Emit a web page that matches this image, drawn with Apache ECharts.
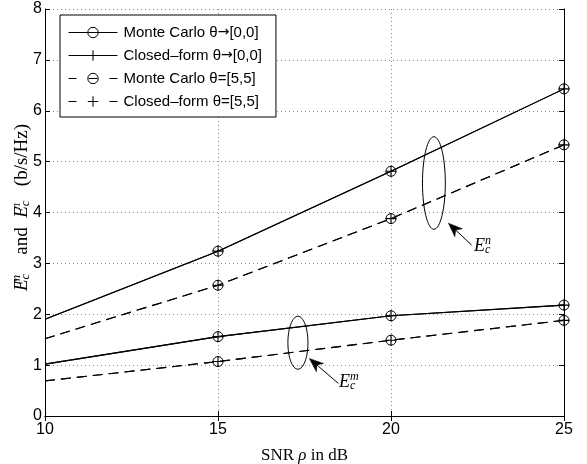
<!DOCTYPE html>
<html>
<head>
<meta charset="utf-8">
<script src="https://cdn.jsdelivr.net/npm/echarts@6/dist/echarts.min.js"></script>
<style>
html,body{margin:0;padding:0;background:#fff;}
#c{width:587px;height:464px;}
</style>
</head>
<body>
<div id="c"></div>
<script>
// ---- data ----
const snr = [10, 15, 20, 25];
const xTicks = [10, 15, 20, 25];
const yTicks = [0, 1, 2, 3, 4, 5, 6, 7, 8];
const en00 = [1.90, 3.24, 4.81, 6.43];   // E_c^n, theta -> [0,0]
const en55 = [1.52, 2.57, 3.88, 5.33];   // E_c^n, theta = [5,5]
const em00 = [1.02, 1.56, 1.97, 2.18];   // E_c^m, theta -> [0,0]
const em55 = [0.69, 1.07, 1.49, 1.88];   // E_c^m, theta = [5,5]
const seriesNames = ['Monte Carlo θ→[0,0]', 'Closed–form θ→[0,0]', 'Monte Carlo θ=[5,5]', 'Closed–form θ=[5,5]'];
// annotation groups in data coordinates: ellipse centre/radii, arrow tip/tail, label
const annEllipses = [[21.24, 4.58, 0.33, 0.91], [17.31, 1.44, 0.29, 0.52]];
const annArrows = [[21.66, 3.79, 22.33, 3.36], [17.64, 1.13, 18.48, 0.64]];
const annLabels = [[22.40, 3.34, 'n'], [18.50, 0.66, 'm']];

const PLUS = 'path://M-1,-10 L1,-10 L1,-1 L10,-1 L10,1 L1,1 L1,10 L-1,10 L-1,1 L-10,1 L-10,-1 L-1,-1 Z';

function pts(vals) {
  return snr.map((x, i) => i === 0 ? { value: [x, vals[i]], symbol: 'none' } : { value: [x, vals[i]] });
}
function mk(name, vals, sym, dashed) {
  const isCircle = sym === 'circle';
  return {
    name: name, type: 'line', data: pts(vals), symbol: sym,
    symbolSize: isCircle ? 10 : 11,
    showAllSymbol: true, clip: false, animation: false,
    lineStyle: { color: '#000', width: 1.1, type: dashed ? [10, 6] : 'solid' },
    itemStyle: isCircle ? { color: 'rgba(0,0,0,0)', borderColor: '#000', borderWidth: 1 } : { color: '#000', borderWidth: 0 },
    emphasis: { disabled: true },
    z: isCircle ? 3 : 4
  };
}

const chart = echarts.init(document.getElementById('c'));
const gridLine = { show: true, lineStyle: { color: '#8a8a8a', width: 1, type: [1, 3] } };
const tickIn = { show: true, inside: true, length: 5, lineStyle: { color: '#000' } };
const sans = 'Liberation Sans, Arial, sans-serif';
const serif = 'Liberation Serif, Times New Roman, serif';

const legendData = seriesNames.map((n, i) => ({
  name: n,
  lineStyle: { width: 1, type: i >= 2 ? [8, 12, 9, 12, 8, 0] : 'solid', color: '#000' },
  itemStyle: i % 2 === 0 ? { borderWidth: 1, borderColor: '#000', color: 'rgba(0,0,0,0)' } : { color: '#000' }
}));

chart.setOption({
  animation: false,
  backgroundColor: '#fff',
  grid: { left: 45, right: 23, top: 9, bottom: 48, containLabel: false, outerBoundsMode: 'none' },
  legend: {
    orient: 'vertical', left: 60, top: 15,
    data: legendData,
    itemWidth: 49, itemHeight: 13, itemGap: 8,
    padding: [10, 14, 8, 8],
    backgroundColor: '#fff', borderColor: '#000', borderWidth: 1, borderRadius: 0,
    formatter: n => n.replace('→', '{a|→}'),
    textStyle: { fontFamily: sans, fontSize: 15, color: '#000', padding: [0, 0, 0, 1],
      rich: { a: { fontFamily: 'DejaVu Sans', fontSize: 14, color: '#000' } } },
    selectedMode: false, z: 10
  },
  xAxis: [{
    type: 'value', min: 10, max: 25, interval: 5,
    axisLine: { show: true, onZero: false, lineStyle: { color: '#000', width: 1 } },
    axisTick: tickIn, splitLine: gridLine,
    axisLabel: { fontFamily: sans, fontSize: 16, color: '#000', margin: 6, formatter: v => xTicks.includes(v) ? String(v) : '' },
    name: '{n|SNR }{i|ρ}{n| in dB}', nameLocation: 'middle', nameGap: 31, nameMoveOverlap: false,
    nameTextStyle: { rich: { n: { fontFamily: serif, fontSize: 17, color: '#000' }, i: { fontFamily: serif, fontStyle: 'italic', fontSize: 17, color: '#000' } } }
  }, {
    type: 'value', position: 'top', min: 10, max: 25, interval: 5,
    axisLine: { show: true, lineStyle: { color: '#000', width: 1 } },
    axisTick: tickIn, axisLabel: { show: false }, splitLine: { show: false }
  }],
  yAxis: [{
    type: 'value', min: 0, max: 8, interval: 1,
    axisLine: { show: true, onZero: false, lineStyle: { color: '#000', width: 1 } },
    axisTick: tickIn, splitLine: gridLine,
    axisLabel: { fontFamily: sans, fontSize: 16, color: '#000', margin: 3, formatter: v => yTicks.includes(v) ? String(v) : '' },
    name: '{E|E}{sup|m}{sub|c}{n|    and  }{E|E}{sup|n}{sub|c}{n|   (b/s/Hz)}', nameLocation: 'middle', nameGap: 11, nameMoveOverlap: false,
    nameTextStyle: { padding: [0, 0, 0, 10], rich: {
      n: { fontFamily: serif, fontSize: 19, color: '#000' },
      E: { fontFamily: serif, fontStyle: 'italic', fontSize: 19, color: '#000' },
      sup: { fontFamily: serif, fontStyle: 'italic', fontSize: 13, color: '#000', width: 0, padding: [0, 0, 11, 0] },
      sub: { fontFamily: serif, fontStyle: 'italic', fontSize: 13, color: '#000', padding: [0, 0, -7, 0] }
    } }
  }, {
    type: 'value', position: 'right', min: 0, max: 8, interval: 1,
    axisLine: { show: true, lineStyle: { color: '#000', width: 1 } },
    axisTick: tickIn, axisLabel: { show: false }, splitLine: { show: false }
  }],
  series: [
    mk(seriesNames[0], en00, 'circle', false),
    mk(seriesNames[1], en00, PLUS, false),
    mk(seriesNames[2], en55, 'circle', true),
    mk(seriesNames[3], en55, PLUS, true),
    mk(seriesNames[0], em00, 'circle', false),
    mk(seriesNames[1], em00, PLUS, false),
    mk(seriesNames[2], em55, 'circle', true),
    mk(seriesNames[3], em55, PLUS, true)
  ]
});

// annotations positioned through the axes
function px(x, y) { return chart.convertToPixel({ gridIndex: 0 }, [x, y]); }
const els = [];
annEllipses.forEach(e => {
  const c = px(e[0], e[1]);
  const r = px(e[0] + e[2], e[1] + e[3]);
  els.push({ type: 'ellipse', shape: { cx: c[0], cy: c[1], rx: Math.abs(r[0] - c[0]), ry: Math.abs(r[1] - c[1]) },
    style: { fill: 'none', stroke: '#000', lineWidth: 1 }, z: 20 });
});
annArrows.forEach(a => {
  const t = px(a[0], a[1]), s = px(a[2], a[3]);
  const dx = t[0] - s[0], dy = t[1] - s[1], L = Math.hypot(dx, dy);
  const ux = dx / L, uy = dy / L, nx = -uy, ny = ux;
  const hl = 14, hw = 5.5, notch = 10;
  const b = [t[0] - ux * hl, t[1] - uy * hl];
  const m = [t[0] - ux * notch, t[1] - uy * notch];
  els.push({ type: 'line', shape: { x1: s[0], y1: s[1], x2: m[0], y2: m[1] }, style: { stroke: '#000', lineWidth: 1 }, z: 20 });
  els.push({ type: 'polygon', shape: { points: [t, [b[0] + nx * hw, b[1] + ny * hw], m, [b[0] - nx * hw, b[1] - ny * hw]] },
    style: { fill: '#000', stroke: '#000', lineWidth: 0.5 }, z: 20 });
});
annLabels.forEach(l => {
  const p = px(l[0], l[1]);
  els.push({ type: 'text', x: p[0], y: p[1], z: 20,
    style: { text: '{E|E}{sup|' + l[2] + '}{sub|c}', verticalAlign: 'middle', align: 'left',
      rich: {
        E: { fontFamily: serif, fontStyle: 'italic', fontSize: 18, fill: '#000' },
        sup: { fontFamily: serif, fontStyle: 'italic', fontSize: 12, fill: '#000', width: 0, padding: [0, 0, 11, 0] },
        sub: { fontFamily: serif, fontStyle: 'italic', fontSize: 12, fill: '#000', padding: [0, 0, -7, 0] }
      } } });
});
chart.setOption({ graphic: { elements: els } });
</script>
</body>
</html>
